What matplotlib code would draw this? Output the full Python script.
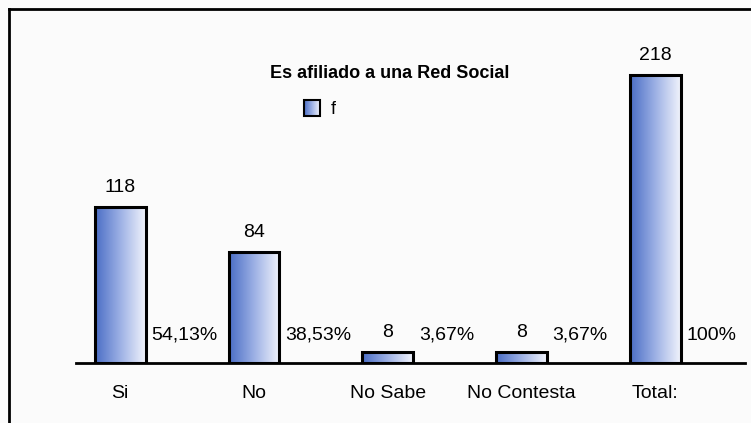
import numpy as np
import matplotlib.pyplot as plt
from matplotlib.patches import Patch
from matplotlib.colors import LinearSegmentedColormap
from matplotlib import font_manager

# Datos de la encuesta
categorias = ['Si', 'No', 'No Sabe', 'No Contesta', 'Total:']
frecuencias = [118, 84, 8, 8, 218]
porcentajes = ['54,13%', '38,53%', '3,67%', '3,67%', '100%']

nombres = {f.name for f in font_manager.fontManager.ttflist}
fuente = 'Liberation Sans Narrow' if 'Liberation Sans Narrow' in nombres else 'Liberation Sans'
plt.rcParams['font.family'] = [fuente, 'DejaVu Sans']

degradado = LinearSegmentedColormap.from_list('azul', ['#4a6dc5', '#9db1e5', '#f2f4fc'])
grad = np.linspace(0, 1, 256).reshape(1, -1)

fig = plt.figure(figsize=(7.51, 4.23), dpi=100, facecolor='#fbfbfb')
ax = fig.add_axes([76 / 751, 1 - 363 / 423, (745 - 76) / 751, (363 - 40) / 423])
ax.set_facecolor('none')

x = np.arange(len(categorias))
barras = ax.bar(x, frecuencias, width=0.38, facecolor='none', edgecolor='black',
                linewidth=2.2, zorder=3)
ax.set_xlim(-0.33, 4.67)
ax.set_ylim(0, 218 * 323 / 288)

# Relleno degradado dentro de cada barra
for b in barras:
    x0, y0 = b.get_x(), b.get_y()
    im = ax.imshow(grad, cmap=degradado, aspect='auto', zorder=2,
                   extent=[x0, x0 + b.get_width(), y0, y0 + b.get_height()])
    im.set_clip_path(b)

# Etiquetas de frecuencia y porcentaje
for xi, v, p in zip(x, frecuencias, porcentajes):
    ax.annotate(str(v), (xi, v), xytext=(0, 8), textcoords='offset points',
                ha='center', va='bottom', fontsize=14)
    ax.annotate(p, (xi + 0.19, 0), xytext=(4, 14), textcoords='offset points',
                ha='left', va='bottom', fontsize=14)

ax.set_xticks(x)
ax.set_xticklabels(categorias, fontsize=14)
ax.tick_params(axis='x', length=0, pad=16)
ax.set_yticks([])
for lado in ['top', 'right', 'left']:
    ax.spines[lado].set_visible(False)
ax.spines['bottom'].set_linewidth(2)
ax.spines['bottom'].set_zorder(4)

fig.text(390 / 751, 1 - 73 / 423, 'Es afiliado a una Red Social', ha='center',
         va='center', fontsize=13, fontweight='bold', family=['Liberation Sans', 'DejaVu Sans'])

leg = fig.legend(handles=[Patch(facecolor='none', edgecolor='black', linewidth=1.5, label='f')],
                 loc='center left', bbox_to_anchor=(288 / 751, 1 - 109 / 423),
                 frameon=False, fontsize=13, handlelength=0.85, handleheight=0.95,
                 handletextpad=0.6)

# Marco del recuadro (izquierda y arriba)
fig.add_artist(plt.Line2D([9 / 751, 9 / 751], [0, 1 - 9 / 423], color='black', lw=2))
fig.add_artist(plt.Line2D([9 / 751, 1], [1 - 9 / 423, 1 - 9 / 423], color='black', lw=2))

# Degradado en la muestra de la leyenda
fig.canvas.draw()
h = leg.legend_handles[0]
bb = h.get_window_extent(fig.canvas.get_renderer()).transformed(fig.transFigure.inverted())
lax = fig.add_axes([bb.x0, bb.y0, bb.width, bb.height], zorder=-1)
lax.imshow(grad, cmap=degradado, aspect='auto', extent=[0, 1, 0, 1])
lax.axis('off')

fig.savefig('out.png', dpi=100, facecolor=fig.get_facecolor())
